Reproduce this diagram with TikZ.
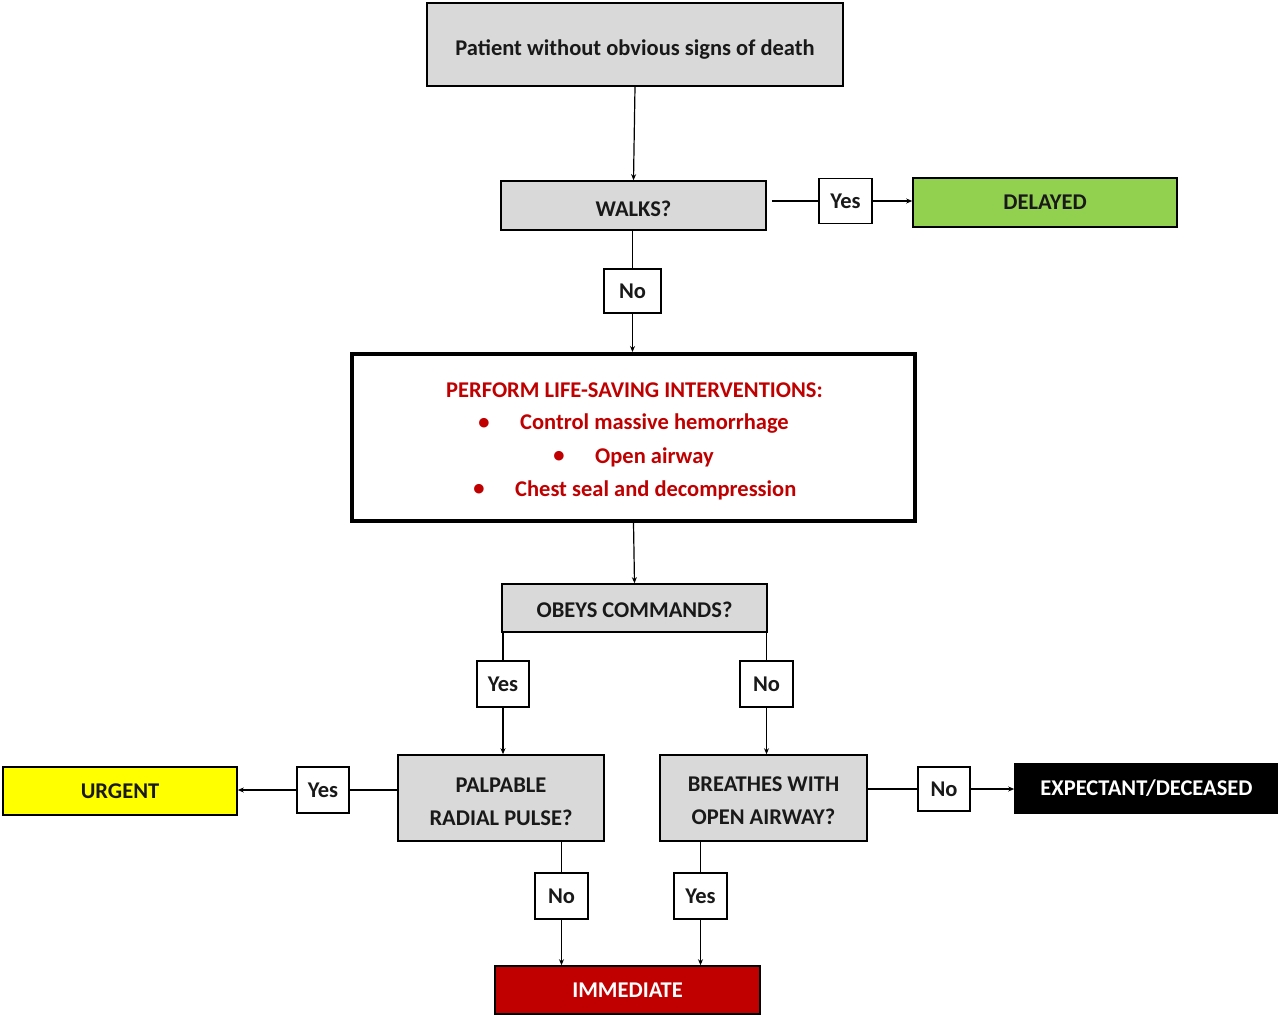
\documentclass[tikz,border=0pt]{standalone}
\usepackage{fontspec}
\setmainfont{Carlito}
\usetikzlibrary{arrows.meta}
\definecolor{boxgray}{HTML}{D9D9D9}
\definecolor{darkred}{HTML}{C00000}
\definecolor{okgreen}{HTML}{92D050}
\definecolor{warnyellow}{HTML}{FFFF00}
\begin{document}
\begin{tikzpicture}[x=1pt,y=-1pt,
  base/.style={draw=black, line width=1.6pt, font=\bfseries\fontsize{22.5}{33}\selectfont, inner sep=0pt, align=center, text=black!90},
  q/.style={base, fill=boxgray},
  lab/.style={base, fill=white, minimum width=53pt, minimum height=45pt},
  intext/.style={font=\bfseries\fontsize{22.5}{33}\selectfont, inner sep=0pt, align=center, text=black!90},
  conn/.style={line width=1.2pt},
  arr/.style={conn, -{Stealth[length=6pt,width=5pt]}},
  redtxt/.style={font=\bfseries\fontsize{22.5}{27}\selectfont, text=darkred, inner sep=0pt}]
\useasboundingbox (0,0) rectangle (1278,1015);

\node[q, minimum width=416pt, minimum height=83pt, label={[intext, yshift=-4.5pt]center:Patient without obvious signs of death}] (top) at (635,44.5) {};
\node[q, minimum width=265pt, minimum height=49pt, label={[intext, yshift=-3pt]center:WALKS?}] (walks) at (633.5,205.5) {};
\node[lab] (yes1) at (845.5,201) {Yes};
\node[base, fill=okgreen, minimum width=264pt, minimum height=49pt] (delayed) at (1045,202.5) {DELAYED};
\node[lab, minimum width=57pt, minimum height=44pt] (no1) at (632.5,291) {No};
\node[draw=black, line width=4pt, minimum width=563pt, minimum height=167pt, fill=white] (big) at (633.5,437.5) {};
\node[redtxt] (t0) at (634.5,390) {PERFORM LIFE-SAVING INTERVENTIONS:};
\node[redtxt] (b1) at (484,424) {\textbullet};
\node[redtxt, anchor=west] (t1) at (520,424) {Control massive hemorrhage};
\node[redtxt] (b2) at (559,457) {\textbullet};
\node[redtxt, anchor=west] (t2) at (595,457) {Open airway};
\node[redtxt] (b3) at (479,490) {\textbullet};
\node[redtxt, anchor=west] (t3) at (515,490) {Chest seal and decompression};

\node[q, minimum width=265pt, minimum height=48pt, label={[intext, yshift=-2pt]center:OBEYS COMMANDS?}] (obeys) at (634.5,608) {};
\node[lab, minimum width=52pt, minimum height=46pt] (yes2) at (503,684) {Yes};
\node[lab, minimum width=53pt, minimum height=46pt] (no2) at (766.5,684) {No};
\node[q, minimum width=206pt, minimum height=86pt, label={[intext, yshift=-3.5pt]center:PALPABLE\\RADIAL PULSE?}] (palp) at (501,798) {};
\node[q, minimum width=207pt, minimum height=86pt, label={[intext, yshift=-3pt]center:BREATHES WITH\\OPEN AIRWAY?}] (breath) at (763.5,798) {};
\node[base, fill=warnyellow, minimum width=234pt, minimum height=48pt] (urgent) at (120,791) {URGENT};
\node[lab, minimum width=52pt, minimum height=46pt] (yes3) at (323,790) {Yes};
\node[lab, minimum width=52pt, minimum height=44pt] (no3) at (944,789) {No};
\node[base, fill=black, text=white, minimum width=263pt, minimum height=49pt] (expect) at (1146.5,788.5) {EXPECTANT/DECEASED};
\node[lab, minimum width=53pt, minimum height=46pt] (no4) at (561.5,896) {No};
\node[lab, minimum width=53pt, minimum height=46pt] (yes4) at (700.5,896) {Yes};
\node[base, fill=darkred, text=white, minimum width=265pt, minimum height=48pt] (immediate) at (627.5,990) {IMMEDIATE};

\draw[arr] (top.south) -- (walks.north);
\draw[conn] ([xshift=5pt]walks.east |- yes1.west) -- (yes1.west);
\draw[arr] (yes1.east) -- (delayed.west |- yes1.east);
\draw[conn] (no1.north |- walks.south) -- (no1.north);
\draw[arr] (no1.south) -- (no1.south |- big.north);
\draw[arr] (big.south) -- (obeys.north);
\draw[conn] (yes2.north |- obeys.south) -- (yes2.north);
\draw[arr] (yes2.south) -- (yes2.south |- palp.north);
\draw[conn] (no2.north |- obeys.south) -- (no2.north);
\draw[arr] (no2.south) -- (no2.south |- breath.north);
\draw[conn] (palp.west |- yes3.east) -- (yes3.east);
\draw[arr] (yes3.west) -- (urgent.east |- yes3.west);
\draw[conn] (breath.east |- no3.west) -- (no3.west);
\draw[arr] (no3.east) -- (expect.west |- no3.east);
\draw[conn] (no4.north |- palp.south) -- (no4.north);
\draw[arr] (no4.south) -- (no4.south |- immediate.north);
\draw[conn] (yes4.north |- breath.south) -- (yes4.north);
\draw[arr] (yes4.south) -- (yes4.south |- immediate.north);
\end{tikzpicture}
\end{document}
